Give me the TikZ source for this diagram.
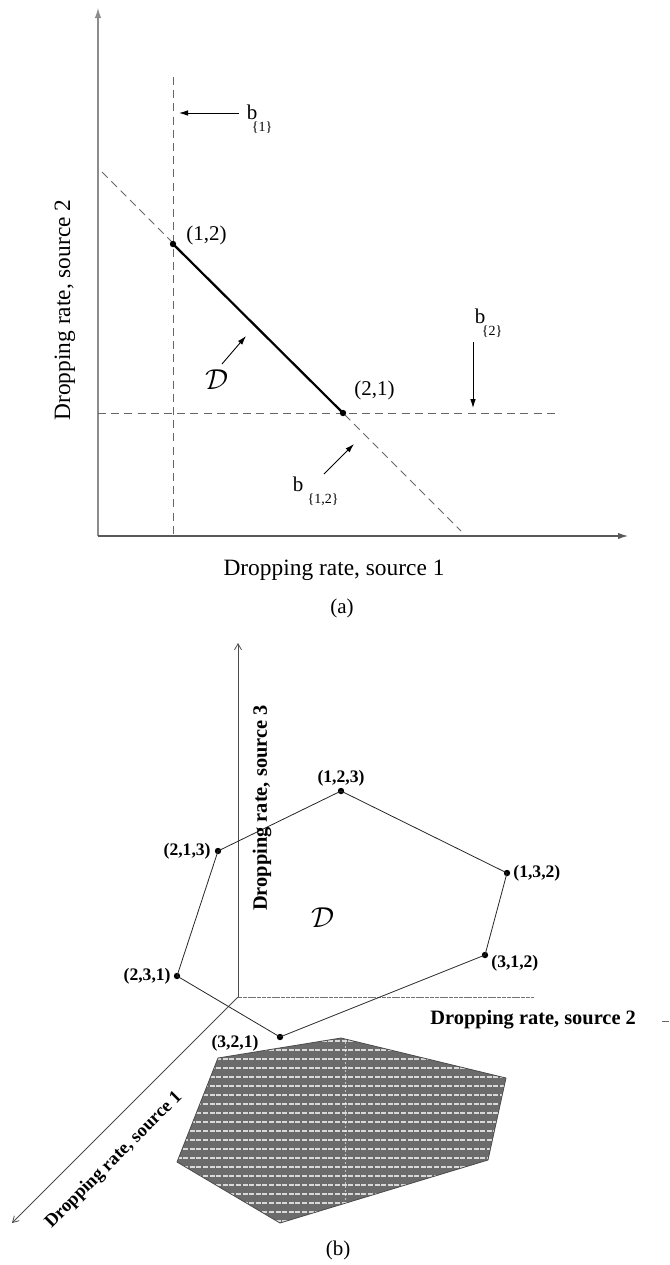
\documentclass[tikz,border=0pt]{standalone}
\usepackage{fontspec}
\setmainfont{Liberation Serif}
\usetikzlibrary{arrows.meta}
\begin{document}
\begin{tikzpicture}[x=0.5pt,y=-0.5pt,
  axisy/.style={line width=0.6pt, draw=black!45, -{Latex[length=5pt,width=3.2pt]}},
  axisx/.style={line width=0.6pt, draw=black!65, -{Latex[length=5pt,width=3.2pt]}},
  dashln/.style={draw=black!60, line width=0.45pt, dash pattern=on 4pt off 2.6pt},
  ptr/.style={draw=black, line width=0.45pt, -{Latex[length=4.5pt,width=2.8pt]}},
  dot/.style={circle, fill=black, inner sep=0pt, minimum size=3.2pt},
  lbl/.style={font=\fontsize{10.5}{12}\selectfont, inner sep=0pt},
  bl/.style={font=\fontsize{10.5}{12}\selectfont, inner sep=0pt},
  subl/.style={font=\fontsize{7}{8}\selectfont, inner sep=0pt},
  axlbl/.style={font=\fontsize{11.7}{14}\selectfont, inner sep=0pt},
  blbl/.style={font=\bfseries\fontsize{8.8}{10}\selectfont, inner sep=0pt},
  baxlbl/.style={font=\bfseries\fontsize{10.2}{12}\selectfont, inner sep=0pt},
  edgeb/.style={draw=black!85, line width=0.4pt},
  thinax/.style={draw=black!70, line width=0.4pt, -{Straight Barb[length=3pt,width=3.5pt]}},
]
\useasboundingbox (0,0) rectangle (670,1265);

% ---------------- (a) ----------------
\coordinate (oa) at (98,536);
\coordinate (ya) at (98,8);
\coordinate (xa) at (628,536);
\draw[axisy] (oa) -- (ya);
\draw[axisx] (oa) -- (xa);

\coordinate (v1t) at (173,77);
\coordinate (v1b) at (173,536);
\coordinate (h2l) at (98,413);
\coordinate (h2r) at (559,413);
\coordinate (dgt) at (102,172);
\coordinate (dgb) at (461,531);
\draw[dashln] (v1t) -- (v1b);
\draw[dashln] (h2l) -- (h2r);
\draw[dashln] (dgt) -- (dgb);

\node[dot] (p12) at (173,244) {};
\node[dot] (p21) at (343,413) {};
\draw[line width=1.1pt] (p12.center) -- (p21.center);

\node[lbl, anchor=west] (l12) at (186,235) {(1,2)};
\node[lbl, anchor=west] (l21) at (354,390) {(2,1)};

\node[bl] (b1) at (252,112) {b};
\node[subl] (s1) at (262,128) {\{1\}};
\coordinate (a1s) at (239,113);
\coordinate (a1e) at (179,113);
\draw[ptr] (a1s) -- (a1e);

\node[bl] (b2) at (480,316) {b};
\node[subl] (s2) at (492,332) {\{2\}};
\coordinate (a2s) at (473,342);
\coordinate (a2e) at (473,408);
\draw[ptr] (a2s) -- (a2e);

\node[bl] (b12) at (298,484) {b};
\node[subl] (s12) at (323,500) {\{1,2\}};
\coordinate (a3s) at (324,474);
\coordinate (a3e) at (354,444);
\draw[ptr] (a3s) -- (a3e);

\node[inner sep=0pt, font=\fontsize{14}{14}\selectfont] (Da) at (217,380) {$\mathcal{D}$};
\coordinate (a4s) at (222,364);
\coordinate (a4e) at (246,336);
\draw[ptr] (a4s) -- (a4e);

\node[axlbl, rotate=90] (ylab) at (65,310) {Dropping rate, source 2};
\node[axlbl] (xlab) at (334,570) {Dropping rate, source 1};
\node[lbl] (capa) at (342,608) {(a)};

% ---------------- (b) ----------------
\coordinate (ob) at (238,997);
\coordinate (zb) at (238,643);
\coordinate (yb) at (534,997);
\coordinate (xb) at (12,1223);
\draw[thinax] (ob) -- (zb);
\draw[thinax] (ob) -- (xb);
\draw[draw=black!55, line width=0.5pt, dash pattern=on 2pt off 0.4pt] (ob) -- (yb);
\coordinate (ytl) at (662,1021);
\coordinate (ytr) at (669,1021);
\draw[draw=black!60, line width=0.5pt] (ytl) -- (ytr);

% shadow
\coordinate (s213) at (218,1058);
\coordinate (s123) at (341,1038);
\coordinate (s132) at (506,1078);
\coordinate (s312) at (488,1160);
\coordinate (s321) at (280,1223);
\coordinate (s231) at (177,1162);
\fill[black!58] (s213) -- (s123) -- (s132) -- (s312) -- (s321) -- (s231) -- cycle;
\begin{scope}
\clip (s213) -- (s123) -- (s132) -- (s312) -- (s321) -- (s231) -- cycle;
\foreach \yy in {1041,1050,...,1225} {
  \draw[white, opacity=0.75, line width=0.55pt, dash pattern=on 2.5pt off 0.8pt] (170,\yy) -- (510,\yy);
}
\draw[white, opacity=0.6, line width=0.4pt, dash pattern=on 1pt off 1pt] (345,1030) -- (345,1230);
\end{scope}
\draw[black!70, line width=0.4pt] (s213) -- (s123) -- (s132) -- (s312) -- (s321) -- (s231) -- cycle;

% polytope
\node[dot] (q123) at (341,791) {};
\node[dot] (q213) at (218,851) {};
\node[dot] (q132) at (507,873) {};
\node[dot] (q312) at (485,955) {};
\node[dot] (q231) at (177,976) {};
\node[dot] (q321) at (280,1037) {};
\draw[edgeb] (q123.center) -- (q132.center) -- (q312.center) -- (q321.center) -- (q231.center) -- (q213.center) -- cycle;

\node[blbl] (t123) at (341,778) {(1,2,3)};
\node[blbl, anchor=east] (t213) at (211,851) {(2,1,3)};
\node[blbl, anchor=west] (t132) at (513,873) {(1,3,2)};
\node[blbl, anchor=west] (t312) at (491,963) {(3,1,2)};
\node[blbl, anchor=east] (t231) at (171,976) {(2,3,1)};
\node[blbl] (t321) at (235,1043) {(3,2,1)};

\node[inner sep=0pt, font=\fontsize{14}{14}\selectfont] (Db) at (323,918) {$\mathcal{D}$};

\node[baxlbl, rotate=90] (zlab) at (262,808) {Dropping rate, source 3};
\node[baxlbl, anchor=west] (ylabb) at (430,1020) {Dropping rate, source 2};
\node[baxlbl, rotate=45, font=\bfseries\fontsize{9.2}{11}\selectfont] (xlabb) at (114,1160) {Dropping rate, source 1};
\node[lbl] (capb) at (338,1250) {(b)};
\end{tikzpicture}
\end{document}
